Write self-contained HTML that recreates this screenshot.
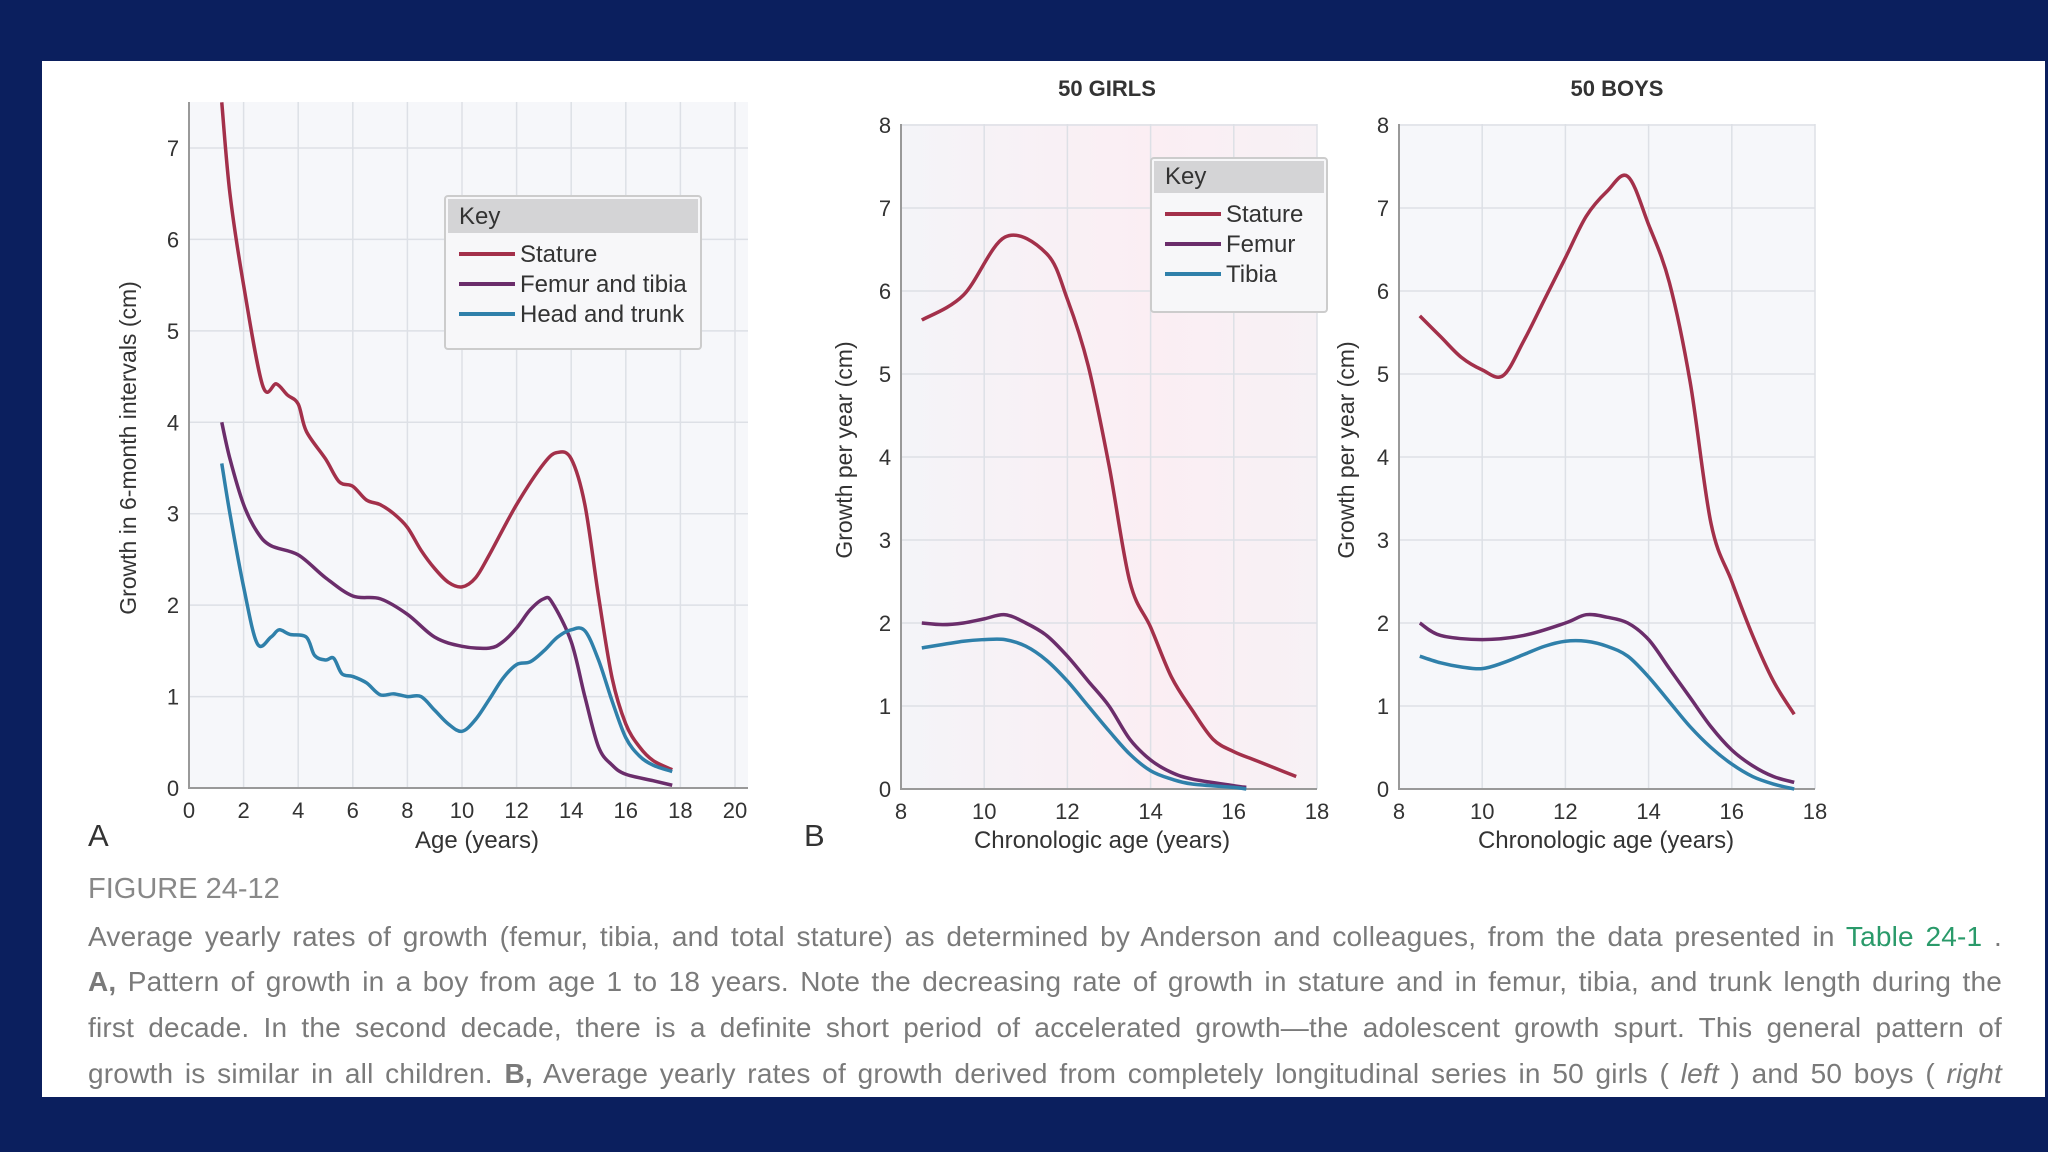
<!DOCTYPE html>
<html><head><meta charset="utf-8"><style>
html,body{margin:0;padding:0;background:#0b1f5e;}
#wrap{position:relative;width:2048px;height:1152px;background:#0b1f5e;overflow:hidden;font-family:"Liberation Sans",sans-serif;}
#panel{position:absolute;left:42px;top:61px;width:2003px;height:1036px;background:#fff;}
svg{position:absolute;left:0;top:0;}
.cap{position:absolute;left:88px;width:1914px;color:#7a7a7a;font-size:28px;text-align:justify;text-align-last:justify;white-space:nowrap;letter-spacing:0.2px;}
</style></head><body>
<div id="wrap">
<div id="panel"></div>
<svg id="chart" width="2048" height="1152"></svg>
<div class="cap" style="top:873px;font-size:29px;text-align-last:left;color:#888;letter-spacing:0">FIGURE 24-12</div>
<div class="cap" style="top:921px">Average yearly rates of growth (femur, tibia, and total stature) as determined by Anderson and colleagues, from the data presented in <span style="color:#2a9a6a">Table 24-1</span> .</div>
<div class="cap" style="top:966px"><b>A,</b> Pattern of growth in a boy from age 1 to 18 years. Note the decreasing rate of growth in stature and in femur, tibia, and trunk length during the</div>
<div class="cap" style="top:1012px">first decade. In the second decade, there is a definite short period of accelerated growth—the adolescent growth spurt. This general pattern of</div>
<div class="cap" style="top:1058px">growth is similar in all children. <b>B,</b> Average yearly rates of growth derived from completely longitudinal series in 50 girls ( <i>left</i> ) and 50 boys ( <i>right</i></div>
</div>
<script>
// Chart A data
const aStatureX=[1.2,1.5,2,2.7,3.2,3.6,4,4.3,5,5.5,6,6.5,7,7.5,8,8.5,9,9.5,10,10.5,11,12,13,13.5,14,14.5,15,15.5,16,16.5,17,17.7];
const aStatureY=[7.5,6.5,5.5,4.4,4.42,4.3,4.2,3.9,3.6,3.35,3.3,3.15,3.1,3.0,2.85,2.6,2.4,2.25,2.2,2.3,2.55,3.1,3.55,3.67,3.6,3.1,2.1,1.2,0.7,0.45,0.3,0.2];
const aFemurX=[1.2,1.5,2,2.5,3,4,5,6,7,8,9,10,11,11.5,12,12.5,13,13.3,14,14.5,15,15.5,16,17,17.7];
const aFemurY=[4.0,3.6,3.1,2.8,2.65,2.55,2.3,2.1,2.07,1.9,1.65,1.55,1.53,1.6,1.75,1.95,2.07,2.03,1.6,1.0,0.45,0.25,0.15,0.08,0.03];
const aHeadX=[1.2,1.5,2,2.5,3,3.3,3.7,4.3,4.6,5,5.3,5.6,6,6.5,7,7.5,8,8.5,9,9.5,10,10.5,11,11.5,12,12.5,13,13.5,14,14.5,15,15.5,16,16.5,17,17.7];
const aHeadY=[3.55,3.0,2.2,1.58,1.65,1.73,1.68,1.65,1.45,1.4,1.42,1.25,1.22,1.15,1.02,1.03,1.0,1.0,0.85,0.7,0.62,0.75,0.97,1.2,1.35,1.38,1.5,1.65,1.73,1.72,1.4,0.95,0.55,0.35,0.25,0.18];
// Girls
const gStatureX=[8.5,9.5,10.5,11.5,12,12.5,13,13.5,14,14.5,15,15.5,16,16.5,17,17.5];
const gStatureY=[5.65,5.95,6.65,6.45,5.9,5.1,3.9,2.5,1.95,1.35,0.95,0.6,0.45,0.35,0.25,0.15];
const gFemurX=[8.5,9,9.5,10,10.5,11,11.5,12,12.5,13,13.5,14,14.5,15,16,16.3];
const gFemurY=[2.0,1.98,2.0,2.05,2.1,2.0,1.85,1.6,1.3,1.0,0.6,0.35,0.2,0.12,0.04,0.02];
const gTibiaX=[8.5,9.5,10,10.5,11,11.5,12,12.5,13,13.5,14,14.5,15,16,16.3];
const gTibiaY=[1.7,1.78,1.8,1.8,1.72,1.55,1.3,1.0,0.7,0.42,0.22,0.12,0.06,0.02,0];
// Boys
const bStatureX=[8.5,9,9.5,10,10.5,11,11.5,12,12.5,13,13.5,14,14.5,15,15.5,16,16.5,17,17.5];
const bStatureY=[5.7,5.45,5.2,5.05,4.98,5.4,5.9,6.4,6.9,7.2,7.38,6.8,6.1,4.9,3.2,2.5,1.85,1.3,0.9];
const bFemurX=[8.5,9,10,11,12,12.5,13,13.5,14,14.5,15,15.5,16,16.5,17,17.5];
const bFemurY=[2.0,1.85,1.8,1.85,2.0,2.1,2.07,2.0,1.8,1.45,1.1,0.75,0.47,0.28,0.15,0.08];
const bTibiaX=[8.5,9,9.5,10,10.5,11,11.5,12,12.5,13,13.5,14,14.5,15,15.5,16,16.5,17,17.5];
const bTibiaY=[1.6,1.52,1.47,1.45,1.52,1.62,1.72,1.78,1.78,1.72,1.6,1.35,1.05,0.75,0.5,0.3,0.15,0.06,0];
const aXTicks=[0,2,4,6,8,10,12,14,16,18,20];
const aYTicks=[0,1,2,3,4,5,6,7];
const bXTicks=[8,10,12,14,16,18];
const bYTicks=[0,1,2,3,4,5,6,7,8];

const NS='http://www.w3.org/2000/svg';
const svg=document.getElementById('chart');
const C={st:'#a3304a',fe:'#6b2d6b',hd:'#2f80aa'};
function mk(tag,attrs,parent){const e=document.createElementNS(NS,tag);for(const k in attrs)e.setAttribute(k,attrs[k]);(parent||svg).appendChild(e);return e;}
function txt(x,y,s,opt,name){const t=mk('text',Object.assign({x:x,y:y,'font-family':'Liberation Sans, sans-serif','font-size':22,fill:'#333','text-anchor':'middle'},opt||{}));t.textContent=s;


return t;}
function smooth(pts){let d='M'+pts[0][0]+','+pts[0][1];for(let i=0;i<pts.length-1;i++){const p0=pts[Math.max(0,i-1)],p1=pts[i],p2=pts[i+1],p3=pts[Math.min(pts.length-1,i+2)];
d+=' C'+(p1[0]+(p2[0]-p0[0])/6)+','+(p1[1]+(p2[1]-p0[1])/6)+' '+(p2[0]-(p3[0]-p1[0])/6)+','+(p2[1]-(p3[1]-p1[1])/6)+' '+p2[0]+','+p2[1];}return d;}
function chart(o){
 const sx=v=>o.x0+(v-o.xmin)/(o.xmax-o.xmin)*(o.x1-o.x0);
 const sy=v=>o.y0-(v)/(o.ymax)*(o.y0-o.y1);
 const g=mk('g',{});
 
 
 const bg=mk('rect',{x:o.x0,y:o.top,width:o.right-o.x0,height:o.y0-o.top,fill:o.bg},g);
 
 
 o.xt.forEach(v=>{const l=mk('line',{x1:sx(v),x2:sx(v),y1:o.top,y2:o.y0,stroke:'#dde0e6','stroke-width':1.5},g);
  
  
  txt(sx(v),o.y0+30,String(v),{},'x-tick-label');});
 o.yt.forEach(v=>{const l=mk('line',{x1:o.x0,x2:o.right,y1:sy(v),y2:sy(v),stroke:'#dde0e6','stroke-width':1.5},g);
  
  
  txt(o.x0-16,sy(v)+8,String(v),{},'y-tick-label');});
 const ax=mk('path',{d:'M'+o.x0+','+o.top+' V'+o.y0+' H'+o.right,stroke:'#999',fill:'none','stroke-width':2},g);
 
 
 o.series.forEach(s=>{const pts=s.x.map((v,i)=>[sx(v),sy(s.y[i])]);
  const p=mk('path',{d:smooth(pts),stroke:s.c,fill:'none','stroke-width':3.5,'stroke-linejoin':'round'},g);
  
  });
}
const defs=mk('defs',{});
defs.innerHTML='<linearGradient id="pk" x1="0" x2="1"><stop offset="0" stop-color="#f4f4f8"/><stop offset="0.6" stop-color="#fbeef3"/><stop offset="1" stop-color="#f7f1f5"/></linearGradient>';
chart({name:'chart-a',x0:189,x1:735,xmin:0,xmax:20,y0:788,y1:148-0,ymax:7,top:102,right:748,bg:'#f6f7fa',xt:aXTicks,yt:aYTicks,
 series:[{x:aStatureX,y:aStatureY,c:C.st,n:'stature-line'},{x:aFemurX,y:aFemurY,c:C.fe,n:'femur-tibia-line'},{x:aHeadX,y:aHeadY,c:C.hd,n:'head-trunk-line'}]});
chart({name:'chart-girls',x0:901,x1:1317,xmin:8,xmax:18,y0:789,y1:125,ymax:8,top:124,right:1317,bg:'url(#pk)',xt:bXTicks,yt:bYTicks,
 series:[{x:gStatureX,y:gStatureY,c:C.st,n:'girls-stature-line'},{x:gFemurX,y:gFemurY,c:C.fe,n:'girls-femur-line'},{x:gTibiaX,y:gTibiaY,c:C.hd,n:'girls-tibia-line'}]});
chart({name:'chart-boys',x0:1399,x1:1815,xmin:8,xmax:18,y0:789,y1:125,ymax:8,top:124,right:1815,bg:'#f6f7fa',xt:bXTicks,yt:bYTicks,
 series:[{x:bStatureX,y:bStatureY,c:C.st,n:'boys-stature-line'},{x:bFemurX,y:bFemurY,c:C.fe,n:'boys-femur-line'},{x:bTibiaX,y:bTibiaY,c:C.hd,n:'boys-tibia-line'}]});
// titles
txt(1107,96,'50 GIRLS',{'font-weight':'bold','font-size':22},'girls-title');
txt(1617,96,'50 BOYS',{'font-weight':'bold','font-size':22},'boys-title');
txt(88,846,'A',{'font-size':31,'text-anchor':'start'},'panel-label-a');
txt(804,846,'B',{'font-size':31,'text-anchor':'start'},'panel-label-b');
txt(477,848,'Age (years)',{'font-size':24},'x-axis-title-a');
txt(1102,848,'Chronologic age (years)',{'font-size':24},'x-axis-title-girls');
txt(1606,848,'Chronologic age (years)',{'font-size':24},'x-axis-title-boys');
txt(136,448,'Growth in 6-month intervals (cm)',{'font-size':23,transform:'rotate(-90 136 448)'},'y-axis-title-a');
txt(852,450,'Growth per year (cm)',{'font-size':23,transform:'rotate(-90 852 450)'},'y-axis-title-girls');
txt(1354,450,'Growth per year (cm)',{'font-size':23,transform:'rotate(-90 1354 450)'},'y-axis-title-boys');
function legend(x,y,w,h,hh,rows,name){
 const g=mk('g',{});
 
 
 mk('rect',{x:x,y:y,width:w,height:h,fill:'#f7f7f9',stroke:'#ccc','stroke-width':2,rx:3},g);
 mk('rect',{x:x+3,y:y+3,width:w-6,height:hh,fill:'#d4d4d6'},g);
 txt(x+14,y+hh-6,'Key',{'text-anchor':'start','font-size':24},'legend-title');
 rows.forEach((r,i)=>{const ly=y+hh+24+i*30;
  const l=mk('line',{x1:x+14,x2:x+70,y1:ly,y2:ly,stroke:r[1],'stroke-width':4},g);
  
  
  txt(x+75,ly+8,r[0],{'text-anchor':'start','font-size':24},'legend-entry');});
}
legend(445,196,256,153,34,[['Stature',C.st],['Femur and tibia',C.fe],['Head and trunk',C.hd]],'legend-a');
legend(1151,158,176,154,32,[['Stature',C.st],['Femur',C.fe],['Tibia',C.hd]],'legend-b');
</script>
</body></html>
